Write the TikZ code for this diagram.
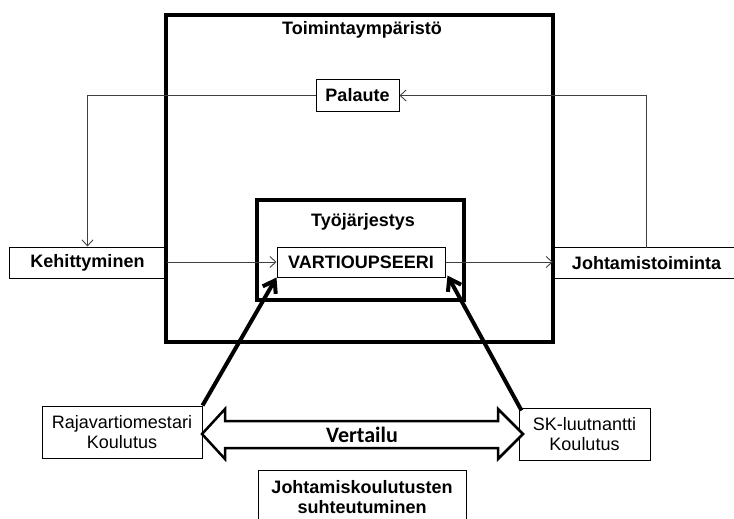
\documentclass[tikz,border=0pt]{standalone}
\usepackage{fontspec}
\setmainfont{Liberation Sans}
\newfontfamily\vertfont{Carlito}
\usetikzlibrary{arrows.meta}
\newcommand\fsz{\fontsize{18}{20}\selectfont}
\begin{document}
\begin{tikzpicture}[x=1pt,y=-1pt,
  box/.style={draw, line width=1pt, inner sep=0pt, fill=white, font=\fsz\bfseries, align=center},
  rbox/.style={box, font=\fsz},
  lbl/.style={inner sep=0pt, font=\fsz\bfseries, align=center},
  conn/.style={draw=black!75, line width=1pt, -{Straight Barb[length=6pt,width=11pt,line width=0.9pt]}},
  bigarrow/.style={line width=4pt, -{Straight Barb[length=11pt,width=15pt,line width=4pt]}},
]
\useasboundingbox (0,0) rectangle (734,519);
\clip (0,0) rectangle (734,519);
% side boxes (under the frame)
\node[box, minimum width=157, minimum height=31] (keh) at (87.5,262.5) {Kehittyminen};
\node[lbl, minimum width=187, minimum height=30] (joh) at (646.5,263) {Johtamistoiminta};
\draw[line width=1pt] (joh.north west) -- ([xshift=20pt]joh.north east)
  (joh.south west) -- ([xshift=20pt]joh.south east);
% outer frame
\node[draw, line width=4.5pt, minimum width=387, minimum height=327, inner sep=0pt] (env) at (359.5,178.5) {};
\node[lbl] (envlbl) at (362,30) {Toimintaympäristö};
\node[box, minimum width=83, minimum height=31] (pal) at (357.5,95.5) {Palaute};
% inner frame
\node[draw, line width=3.5pt, minimum width=207, minimum height=100, inner sep=0pt] (tyo) at (360.5,250) {};
\node[lbl] (tyolbl) at (363,222) {Työjärjestys};
\node[box, minimum width=168, minimum height=30] (vart) at (361,262) {VARTIOUPSEERI};
% training boxes
\node[rbox, minimum width=160, minimum height=52] (raja) at (122,432) {Rajavartiomestari\\Koulutus};
\node[rbox, minimum width=131, minimum height=52] (sk) at (584.5,434) {SK-luutnantti\\Koulutus};
\node[box, minimum width=208, minimum height=70] (jokobox) at (362,505) {};
\node[lbl] (jokotxt) at (362,497.5) {Johtamiskoulutusten\\suhteutuminen};
% thin connectors
\draw[conn] (joh.north) -- (joh.north |- pal.east) -- (pal.east);
\draw[conn] (pal.west) -- (keh.north |- pal.west) -- (keh.north);
\draw[conn] (vart.west -| keh.east) -- (vart.west);
\draw[conn] (vart.east) -- (vart.east -| joh.west);
% thick arrows
\draw[bigarrow] (raja.north east) -- (vart.south west);
\draw[bigarrow] ([xshift=3pt,yshift=-3pt]sk.north west) -- ([xshift=2pt,yshift=2pt]vart.south east);
% comparison double arrow
\draw[line width=2.5pt, line join=miter, fill=white] (202,434) -- (225,409) -- (225,421) -- (498,421) -- (498,409) -- (523,434) -- (498,459) -- (498,448) -- (225,448) -- (225,459) -- cycle;
\node[inner sep=0pt, font=\vertfont\bfseries\fontsize{22}{24}\selectfont] (vert) at (362,435) {Vertailu};
\end{tikzpicture}
\end{document}
